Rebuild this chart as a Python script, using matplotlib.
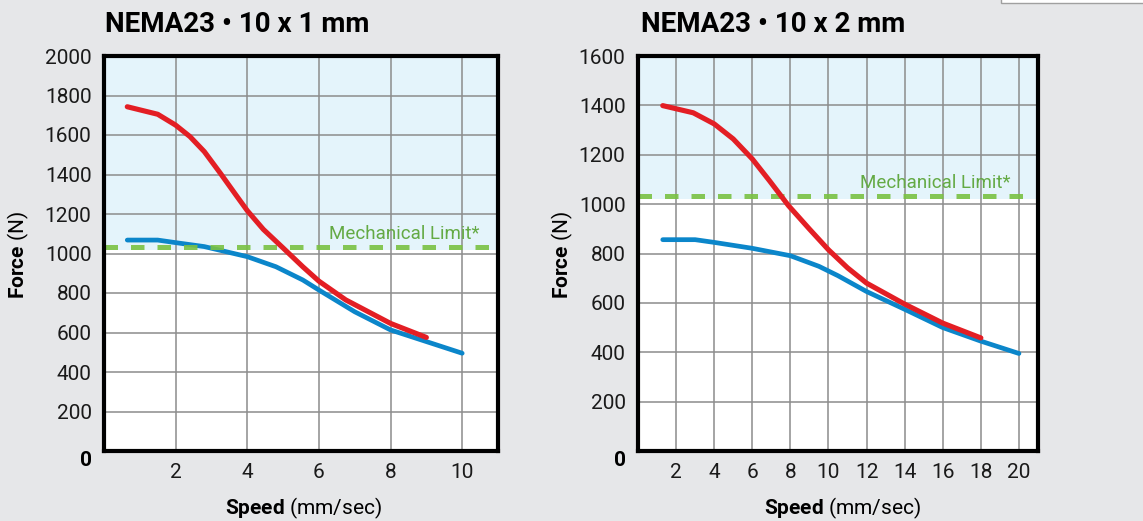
import numpy as np
import matplotlib
matplotlib.use("Agg")
import matplotlib.pyplot as plt
from matplotlib.patches import Rectangle
import matplotlib.transforms as mtrans

plt.rcParams['font.family'] = ['Roboto', 'DejaVu Sans']
plt.rcParams['mathtext.fontset'] = 'custom'
plt.rcParams['mathtext.bf'] = 'Roboto:bold'
plt.rcParams['mathtext.rm'] = 'Roboto'

# data
# left: NEMA23 10 x 1 mm
red1_x = [0.65, 1.5, 2, 2.4, 2.8, 3.25, 3.7, 4, 4.45, 5, 5.55, 6, 6.75, 8, 9]
red1_y = [1743, 1705, 1650, 1592, 1516, 1406, 1292, 1217, 1122, 1028, 933, 860, 765, 646, 575]
blue1_x = [0.65, 1.5, 2, 2.8, 4, 4.8, 5.55, 6, 7, 8, 9, 10]
blue1_y = [1068, 1068, 1055, 1035, 984, 933, 866, 815, 705, 613, 554, 495]
# right: NEMA23 10 x 2 mm
red2_x = [1.3, 2.9, 4, 5, 6, 6.9, 7.9, 9, 10, 11, 12, 14, 16, 18]
red2_y = [1399, 1370, 1325, 1264, 1183, 1095, 994, 899, 815, 742, 680, 595, 518, 458]
blue2_x = [1.3, 3, 4, 6, 8, 9.5, 10.5, 12, 14, 16, 18, 20]
blue2_y = [856, 856, 845, 821, 791, 748, 710, 646, 574, 500, 445, 395]

mech_limit = 1031
titles = ["NEMA23 \u2022 10 x 1 mm", "NEMA23 \u2022 10 x 2 mm"]
xticks1 = [2, 4, 6, 8, 10]
xticks2 = [2, 4, 6, 8, 10, 12, 14, 16, 18, 20]
yticks1 = [200, 400, 600, 800, 1000, 1200, 1400, 1600, 1800, 2000]
yticks2 = [200, 400, 600, 800, 1000, 1200, 1400, 1600]

RED = "#E31E24"
BLUE = "#0B86CA"
GREEN = "#7AC143"
SHADE = "#E4F4FB"
BG = "#E6E7E9"

W, H = 1143, 521
fig = plt.figure(figsize=(W / 100, H / 100), dpi=100, facecolor=BG)

ax1 = fig.add_axes([104 / W, 1 - 451 / H, 394 / W, 395 / H])
ax2 = fig.add_axes([638 / W, 1 - 451 / H, 400 / W, 395 / H])

# ax, curves, xmax, ymax, ticks, title x, xlabel x, ylabel x, limit text x
setups = [
    (ax1, red1_x, red1_y, blue1_x, blue1_y, 11, 2000, xticks1, yticks1, 105, 304, 18, 0.952),
    (ax2, red2_x, red2_y, blue2_x, blue2_y, 21, 1600, xticks2, yticks2, 641, 843, 562, 0.93),
]

for i, (ax, rx, ry, bx, by, xmax, ymax, xt, yt, tx, lx, yl, mx) in enumerate(setups):
    ax.set_facecolor("white")
    ax.set_xlim(0, xmax)
    ax.set_ylim(0, ymax)
    ax.set_axisbelow(True)
    ax.axhspan(1020, ymax, color=SHADE, zorder=0.3, lw=0)
    ax.grid(True, color="#8C8C8C", lw=1.1)
    ax.set_xticks(xt)
    ax.set_yticks(yt)
    ax.tick_params(length=0, labelsize=15, colors="#1a1a1a")
    ax.tick_params(axis="y", pad=9)
    ax.tick_params(axis="x", pad=9)
    for s in ax.spines.values():
        s.set_linewidth(3)
        s.set_color("black")
        s.set_zorder(6)

    ax.plot(bx, by, color=BLUE, lw=3.4, solid_capstyle="round", solid_joinstyle="round", zorder=3)
    ax.axhline(mech_limit, color=GREEN, lw=3.6, dashes=(2.7, 2.6), alpha=0.9, zorder=3.5)
    ax.plot(rx, ry, color=RED, lw=3.7, solid_capstyle="round", solid_joinstyle="round", zorder=4)

    ax.text(mx, mech_limit + ymax * 0.012, "Mechanical Limit*",
            transform=mtrans.blended_transform_factory(ax.transAxes, ax.transData),
            ha="right", va="bottom", fontsize=13.5, color="#64AA44", zorder=5)

    # bold zero at the corner
    off = mtrans.offset_copy(ax.transAxes, fig=fig, x=-12, y=-9, units="dots")
    ax.text(0, 0, "0", transform=off, ha="right", va="center", fontsize=15, fontweight="bold")

    fig.text(tx / W, 1 - 25 / H, titles[i], ha="left", va="center", fontsize=20, fontweight="bold")
    fig.text(lx / W, 1 - 508 / H, r"$\bf{Speed}$ (mm/sec)", ha="center", va="center", fontsize=15)
    fig.text(yl / W, 1 - 255 / H, r"$\bf{Force}$ (N)", ha="center", va="center", fontsize=15, rotation=90)

# corner of a box cut off at the top right
fig.patches.append(Rectangle((1001 / W, 1 - 3 / H), 200 / W, 10 / H, transform=fig.transFigure,
                             facecolor="white", edgecolor="#A0A0A0", lw=1))

fig.savefig("out.png", dpi=100, facecolor=BG)
